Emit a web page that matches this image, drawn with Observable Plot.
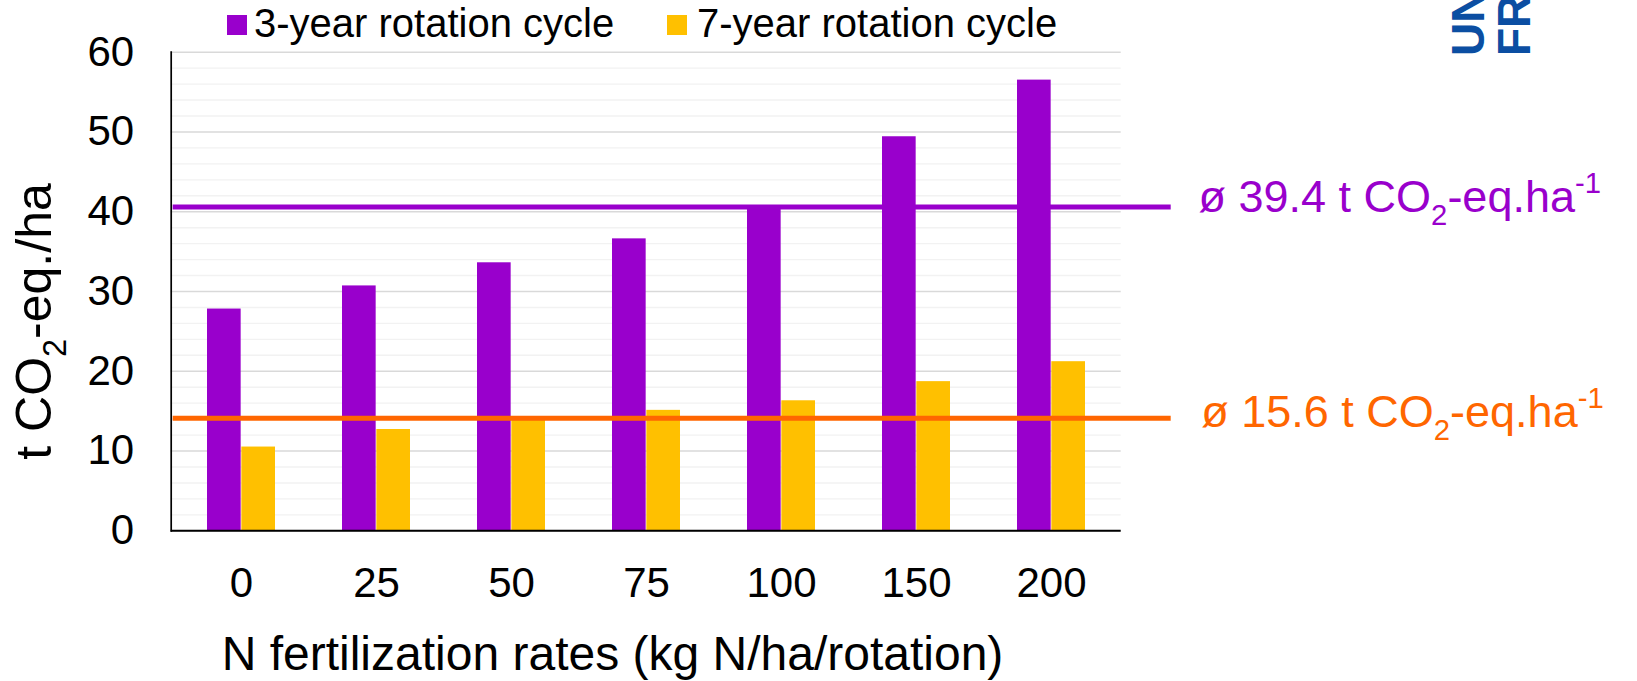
<!DOCTYPE html>
<html>
<head>
<meta charset="utf-8">
<script src="https://cdn.jsdelivr.net/npm/d3@7"></script>
<script src="https://cdn.jsdelivr.net/npm/@observablehq/plot@0.6"></script>
<style>
  html, body { margin: 0; padding: 0; background: #fff; }
  #wrap { position: relative; width: 1637px; height: 681px; overflow: hidden;
          font-family: "Liberation Sans", Arial, sans-serif; }
  #wrap svg.chart { position: absolute; left: 0; top: 0; }
  .lg-sw { position: absolute; width: 20px; height: 20px; top: 15px; }
  .lg-tx { position: absolute; top: 3px; font-size: 40px; line-height: 1; color: #000; white-space: nowrap; }
  #logo { position: absolute; left: 0; top: 0; }
</style>
</head>
<body>
<div id="wrap"></div>
<script>
// ---- data ----
const categories = ["0", "25", "50", "75", "100", "150", "200"];
const seriesNames = ["3-year rotation cycle", "7-year rotation cycle"];
const threeYear = [27.8, 30.7, 33.6, 36.6, 40.6, 49.4, 56.5];
const sevenYear = [10.5, 12.7, 14.2, 15.1, 16.3, 18.7, 21.2];
const seriesColors = ["#9900CC", "#FFC000"];
const avgLinePositions = [40.6, 14.1];
const avgLabels = ["ø 39.4 t CO2-eq.ha-1", "ø 15.6 t CO2-eq.ha-1"];
const avgColors = ["#9900CC", "#FF6600"];
const yTicks = [0, 10, 20, 30, 40, 50, 60];
const yMinorTicks = [2, 4, 6, 8, 12, 14, 16, 18, 22, 24, 26, 28, 32, 34, 36, 38, 42, 44, 46, 48, 52, 54, 56, 58];
const xTitle = "N fertilization rates (kg N/ha/rotation)";
const yTitle = "t CO2-eq./ha";

// ---- layout ----
const W = 1637, H = 681;
const mL = 170.7, mR = 516.3, mT = 51.7, mB = 150.7;
const padInner = 0.494, padOuter = padInner / 2;
const step = (W - mL - mR) / categories.length;
const halfBand = step * (1 - padInner) / 2;
const FONT = "Liberation Sans, Arial, sans-serif";

const data3 = categories.map((c, i) => ({cat: c, v: threeYear[i]}));
const data7 = categories.map((c, i) => ({cat: c, v: sevenYear[i]}));
const avgData = avgLinePositions.map((p, i) => ({pos: p, label: avgLabels[i], color: avgColors[i]}));
const labelDx = [77.3, 80];
const labelDy = [-9.0, -5.8];

const chart = Plot.plot({
  width: W, height: H,
  marginLeft: mL, marginRight: mR, marginTop: mT, marginBottom: mB,
  style: {fontFamily: FONT, fontSize: "42px", background: "transparent", color: "#000", overflow: "visible"},
  x: {domain: categories, paddingInner: padInner, paddingOuter: padOuter},
  y: {domain: [0, 60]},
  marks: [
    Plot.ruleY(yMinorTicks, {stroke: "#f2f2f2", strokeWidth: 1.4}),
    Plot.ruleY(yTicks, {stroke: "#d9d9d9", strokeWidth: 1.6}),
    Plot.barY(data3, {x: "cat", y: "v", fill: seriesColors[0], insetRight: halfBand}),
    Plot.barY(data7, {x: "cat", y: "v", fill: seriesColors[1], insetLeft: halfBand}),
    ...avgData.map((d) => Plot.ruleY([d], {y: "pos", stroke: d.color, strokeWidth: 5, insetLeft: 2, insetRight: -50})),
    ...avgData.map((d, i) => Plot.text([d], {y: "pos", text: "label", frameAnchor: "right", textAnchor: "start",
      lineAnchor: "middle", dx: labelDx[i], dy: labelDy[i], fill: d.color, fontSize: 45, fontFamily: FONT})),
    Plot.ruleY([0], {stroke: "#000", strokeWidth: 2}),
    Plot.frame({anchor: "left", stroke: "#000", strokeWidth: 1.7}),
    Plot.axisY(yTicks, {tickSize: 0, tickPadding: 37, fontSize: 42, label: null}),
    Plot.axisX({tickSize: 0, tickPadding: 36.6, fontSize: 42, label: null}),
    Plot.text([yTitle], {frameAnchor: "left", rotate: -90, textAnchor: "middle", lineAnchor: "middle",
      dx: -136, dy: 30, fontSize: 50, fontFamily: FONT, fill: "#000"}),
    Plot.text([xTitle], {frameAnchor: "bottom", textAnchor: "middle", lineAnchor: "middle",
      dx: -33.7, dy: 124.3, fontSize: 48, fontFamily: FONT, fill: "#000"})
  ]
});
chart.classList.add("chart");

// rich text: subscript "2" in CO2 and superscript "-1"
function richify(el, fs) {
  const str = el.textContent;
  if (!/CO2|-1$/.test(str)) return;
  const parts = [];
  const re = /CO2|-1$/g;
  let last = 0, m;
  while ((m = re.exec(str))) {
    if (m.index > last) parts.push({t: str.slice(last, m.index)});
    if (m[0] === "CO2") { parts.push({t: "CO"}); parts.push({t: "2", kind: "sub"}); }
    else parts.push({t: "-1", kind: "sup"});
    last = m.index + m[0].length;
  }
  if (last < str.length) parts.push({t: str.slice(last)});
  while (el.firstChild) el.removeChild(el.firstChild);
  let shift = 0;
  const ns = "http://www.w3.org/2000/svg";
  for (const p of parts) {
    const ts = document.createElementNS(ns, "tspan");
    let target = 0;
    if (p.kind === "sub") { target = 0.29 * fs; ts.setAttribute("font-size", (0.65 * fs) + "px"); }
    if (p.kind === "sup") { target = -0.43 * fs; ts.setAttribute("font-size", (0.65 * fs) + "px"); }
    const d = target - shift;
    if (d !== 0) ts.setAttribute("dy", d);
    shift = target;
    ts.textContent = p.t;
    el.appendChild(ts);
  }
}
chart.querySelectorAll("text").forEach((t) => {
  const s = t.textContent;
  if (s.startsWith("ø")) richify(t, 45);
  else if (s === yTitle) richify(t, 50);
});

const wrap = document.getElementById("wrap");
wrap.appendChild(chart);

// legend
const lgX = [{sw: 227, tx: 254}, {sw: 667, tx: 697}];
seriesNames.forEach((name, i) => {
  const sw = document.createElement("div");
  sw.className = "lg-sw";
  sw.style.left = lgX[i].sw + "px";
  sw.style.background = seriesColors[i];
  wrap.appendChild(sw);
  const tx = document.createElement("div");
  tx.className = "lg-tx";
  tx.style.left = lgX[i].tx + "px";
  tx.textContent = name;
  wrap.appendChild(tx);
});

// logo (partially cropped, as in the source)
const logo = d3.select(wrap).append("svg").attr("id", "logo").attr("width", W).attr("height", H);
[["UNI", 1483.5], ["FR", 1530]].forEach(([s, x]) => {
  logo.append("text").attr("transform", `translate(${x},56) rotate(-90)`)
    .attr("font-family", FONT).attr("font-weight", "bold").attr("font-size", 46)
    .attr("fill", "#0b4ea2").text(s);
});
</script>
</body>
</html>
